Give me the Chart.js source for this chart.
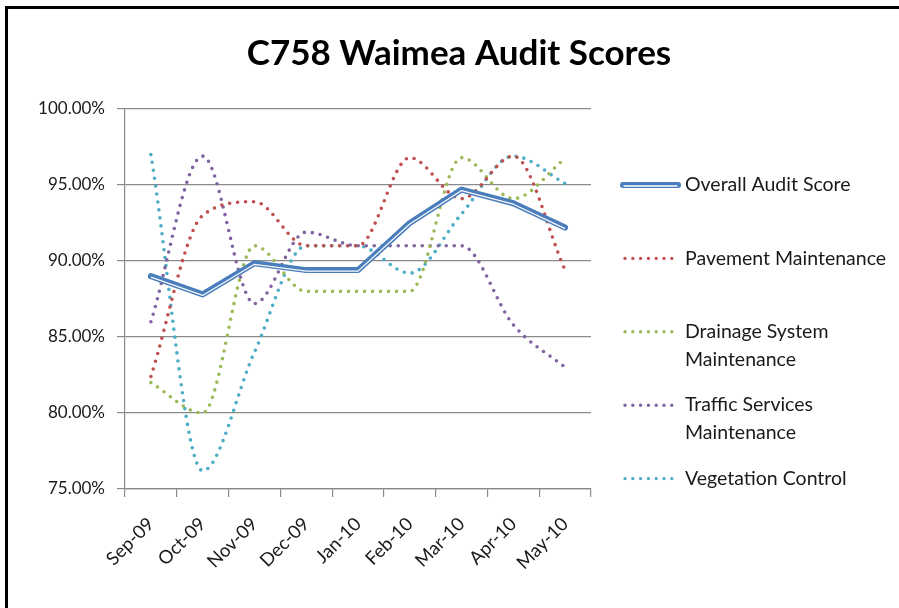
<!DOCTYPE html>
<html>
<head>
<meta charset="utf-8">
<script src="https://cdn.jsdelivr.net/npm/chart.js@4"></script>
<style>
  html, body { margin: 0; padding: 0; background: #fff; overflow: hidden; }
  #wrap { position: relative; width: 899px; height: 608px; }
  #frame { position: absolute; left: 5px; top: 6px; width: 1000px; height: 1000px;
           border-top: 3px solid #000; border-left: 3px solid #000; pointer-events: none; }
  canvas { position: absolute; left: 0; top: 0; }
</style>
</head>
<body>
<div id="wrap">
  <canvas id="c" width="899" height="608"></canvas>
  <div id="frame"></div>
</div>
<script>
const titleText = "C758 Waimea Audit Scores";
const months = ["Sep-09", "Oct-09", "Nov-09", "Dec-09", "Jan-10", "Feb-10", "Mar-10", "Apr-10", "May-10"];
const overallScore = [89.0, 87.8, 89.85, 89.4, 89.4, 92.5, 94.7, 93.8, 92.2];
const pavement     = [82.4, 93.0, 93.9, 91.0, 91.0, 96.8, 94.1, 96.9, 89.4];
const drainage     = [82.0, 80.0, 91.0, 88.0, 88.0, 88.0, 96.8, 94.1, 96.75];
const traffic      = [86.0, 96.9, 87.2, 91.9, 91.0, 91.0, 91.0, 85.8, 83.0];
const vegetation   = [97.0, 76.2, 84.0, 91.0, 91.0, 89.2, 93.1, 96.9, 95.1];
const yTicks = [75, 80, 85, 90, 95, 100];
const legendLabels = [
  ["Overall Audit Score"],
  ["Pavement Maintenance"],
  ["Drainage System", "Maintenance"],
  ["Traffic Services", "Maintenance"],
  ["Vegetation Control"]
];

const FONT = "Lato, 'Open Sans', sans-serif";
const BLUE = "#4a7dbb";
const dotted = (label, data, color) => ({
  label, data, borderColor: color, backgroundColor: color,
  borderWidth: 3.6, borderDash: [0, 8], borderCapStyle: "round",
  cubicInterpolationMode: "monotone", pointRadius: 0, fill: false, order: 2
});

const datasets = [
  { label: legendLabels[0].join(" "), data: overallScore, borderColor: BLUE, borderWidth: 6,
    borderCapStyle: "round", borderJoinStyle: "round", tension: 0, pointRadius: 0, order: 1, kind: "double" },
  dotted(legendLabels[1].join(" "), pavement, "#c0504d"),
  dotted(legendLabels[2].join(" "), drainage, "#9bbb59"),
  dotted(legendLabels[3].join(" "), traffic, "#8064a2"),
  dotted(legendLabels[4].join(" "), vegetation, "#4bacc6"),
  { label: "overlay", data: overallScore, borderColor: "rgba(255,255,255,0.95)", borderWidth: 1.3,
    borderJoinStyle: "round", tension: 0, pointRadius: 0, order: 0, overlay: true }
];

const shiftOverlay = {
  id: "shiftOverlay",
  beforeDatasetDraw(chart, args) {
    if (chart.data.datasets[args.index].overlay) { chart.ctx.save(); chart.ctx.translate(0, 1); }
  },
  afterDatasetDraw(chart, args) {
    if (chart.data.datasets[args.index].overlay) chart.ctx.restore();
  }
};

const titleAndLegend = {
  id: "titleAndLegend",
  afterDraw(chart) {
    const ctx = chart.ctx;
    ctx.save();
    ctx.fillStyle = "#000";
    ctx.font = "bold 35px " + FONT;
    ctx.textAlign = "center";
    ctx.textBaseline = "alphabetic";
    ctx.fillText(titleText, 459, 65);

    const x0 = 623, x1 = 678, tx = 685, top = 185, step = 73.4, lh = 28;
    ctx.font = "19.5px " + FONT;
    ctx.textAlign = "left";
    ctx.textBaseline = "middle";
    const items = chart.data.datasets.filter(d => !d.overlay);
    items.forEach((ds, i) => {
      const y = top + i * step;
      ctx.save();
      ctx.beginPath();
      if (ds.kind === "double") {
        ctx.lineCap = "round";
        ctx.strokeStyle = ds.borderColor; ctx.lineWidth = 6;
        ctx.moveTo(x0, y); ctx.lineTo(x1, y); ctx.stroke();
        ctx.beginPath();
        ctx.strokeStyle = "#fff"; ctx.lineWidth = 1.3;
        ctx.moveTo(x0 + 1, y + 1); ctx.lineTo(x1 - 1, y + 1); ctx.stroke();
      } else {
        ctx.lineCap = "round";
        ctx.setLineDash([0, 7.8]);
        ctx.strokeStyle = ds.borderColor; ctx.lineWidth = 3.4;
        ctx.moveTo(x0 + 2, y); ctx.lineTo(x1 - 4, y); ctx.stroke();
      }
      ctx.restore();
      ctx.fillStyle = "#1a1a1a";
      legendLabels[i].forEach((line, j) => ctx.fillText(line, tx, y + j * lh));
    });
    ctx.restore();
  }
};

const GRID = "#8a8a8a";
new Chart(document.getElementById("c"), {
  type: "line",
  data: { labels: months, datasets },
  options: {
    responsive: false,
    animation: false,
    events: [],
    layout: { padding: { top: 109, right: 308, left: 10, bottom: 0 } },
    plugins: { legend: { display: false }, tooltip: { enabled: false }, title: { display: false } },
    scales: {
      x: {
        offset: true,
        grid: { offset: true, drawOnChartArea: false, drawTicks: true, tickLength: 8, color: GRID, lineWidth: 1.2 },
        border: { display: true, color: GRID, width: 1.2 },
        ticks: { autoSkip: false, minRotation: 45, maxRotation: 45, color: "#1a1a1a", font: { family: FONT, size: 18.5 }, padding: 16 },
        afterFit(scale) { scale.height = 608 - 489; }
      },
      y: {
        min: 75, max: 100,
        afterBuildTicks(scale) { scale.ticks = yTicks.map(v => ({ value: v })); },
        grid: { color: GRID, lineWidth: 1.2, tickLength: 8 },
        border: { display: true, color: GRID, width: 1.2 },
        ticks: { color: "#1a1a1a", font: { family: FONT, size: 17 }, padding: 12,
                 callback: v => v.toFixed(2) + "%" },
        afterFit(scale) { scale.width = 125 - 10; }
      }
    }
  },
  plugins: [shiftOverlay, titleAndLegend]
});
</script>
</body>
</html>
